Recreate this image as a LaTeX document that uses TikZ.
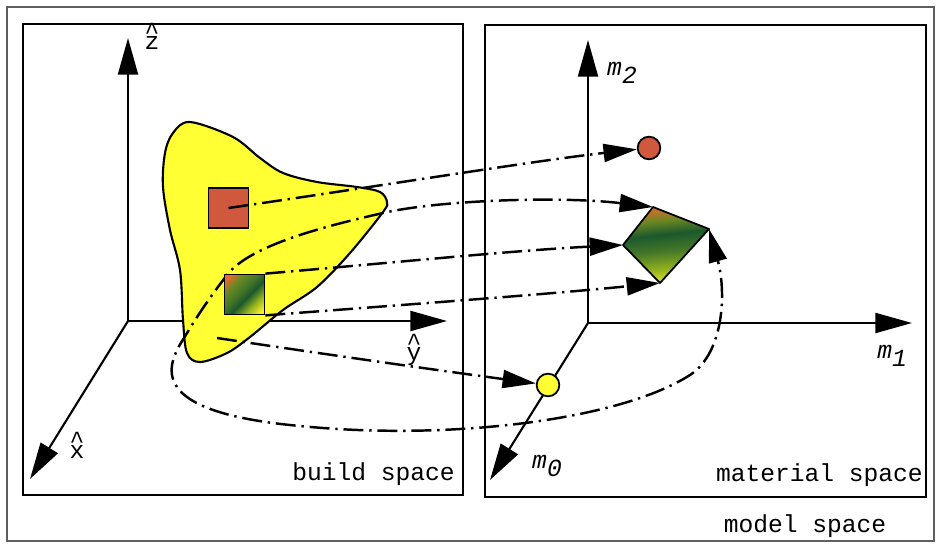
\documentclass[tikz,border=0pt]{standalone}
\usepackage{fontspec}
\setmonofont{Liberation Mono}
\usetikzlibrary{arrows.meta, shapes.geometric}
\definecolor{blobyellow}{RGB}{255,255,51}
\definecolor{cellred}{RGB}{208,88,60}
\definecolor{matorange}{RGB}{232,105,45}
\definecolor{matolive}{RGB}{105,135,35}
\definecolor{matdark}{RGB}{28,88,45}
\definecolor{matgreen}{RGB}{70,120,40}
\definecolor{matlime}{RGB}{150,180,30}
\definecolor{matyellow}{RGB}{248,240,40}
\definecolor{framegray}{RGB}{95,95,95}
\pgfdeclareverticalshading{cellshade}{100bp}{color(0bp)=(matyellow); color(20bp)=(matyellow);
  color(32bp)=(matlime); color(45bp)=(matdark); color(56bp)=(matgreen);
  color(68bp)=(matolive); color(80bp)=(matorange); color(100bp)=(matorange)}
\pgfdeclareverticalshading{diamondshade}{100bp}{color(0bp)=(matyellow); color(24bp)=(matyellow);
  color(34bp)=(matlime); color(46bp)=(matgreen); color(57bp)=(matdark);
  color(66bp)=(matolive); color(76bp)=(matorange); color(100bp)=(matorange)}
\newcommand{\hatlabel}[1]{\ooalign{#1\cr\hidewidth\raisebox{0.42em}{\textasciicircum}\hidewidth\cr}}
\newcommand{\msub}[1]{\textit{m}\raisebox{-0.35em}{\textit{#1}}}
\tikzset{
  flowtip/.tip={Triangle[length=1.0cm, width=0.54cm]},
  outerframe/.style={draw=framegray, line width=1.6pt},
  spacebox/.style={draw, line width=2.1pt},
  axisarrow/.style={line width=1.8pt, -{Triangle[length=1.1cm, width=0.6cm]}},
  flowline/.style={line width=2.1pt, dash pattern=on 17pt off 5pt on 2pt off 5pt, -flowtip},
  blobshape/.style={draw, line width=1.8pt, fill=blobyellow},
  cellbox/.style={draw, line width=1.5pt, minimum size=1.2cm, inner sep=0pt},
  pointdot/.style={circle, draw, line width=1.5pt, minimum size=0.68cm, inner sep=0pt},
  spacelabel/.style={font=\fontsize{21}{25}\selectfont\ttfamily, inner sep=0pt},
}
\begin{document}
\begin{tikzpicture}[x=0.03cm, y=-0.03cm]
  \useasboundingbox (0,0) rectangle (937,544);

  % frames
  \draw[outerframe] (7,7) rectangle (934,541);
  \draw[spacebox] (23,24) rectangle (463,495);
  \draw[spacebox] (485,25) rectangle (926,497);

  % build space axes
  \coordinate (bo) at (128,321);
  \coordinate (bz) at (128,38);
  \coordinate (by) at (447,321);
  \coordinate (bx) at (30,479);
  \draw[axisarrow] (bo) -- (bz);
  \draw[axisarrow] (bo) -- (by);
  \draw[axisarrow] (bo) -- (bx);
  \node[spacelabel] (zlab) at (152,43) {\hatlabel{z}};
  \node[spacelabel] (ylab) at (414,354) {\hatlabel{y}};
  \node[spacelabel] (xlab) at (77,452) {\hatlabel{x}};

  % material space axes
  \coordinate (mo) at (588,323);
  \coordinate (mz) at (588,40);
  \coordinate (my) at (912,323);
  \coordinate (mx) at (490,480);
  \draw[axisarrow] (mo) -- (mz);
  \draw[axisarrow] (mo) -- (my);
  \draw[axisarrow] (mo) -- (mx);
  \node[spacelabel] (m2lab) at (622,73) {\msub{2}};
  \node[spacelabel] (m1lab) at (892,356) {\msub{1}};
  \node[spacelabel] (m0lab) at (547,466) {\msub{0}};

  % part in build space
  \draw[blobshape] plot[smooth cycle, tension=0.55] coordinates {
    (190,122) (173,133) (165,153) (163,187) (170,230) (180,270) (183,320)
    (187,353) (200,362) (227,353) (250,337) (283,310) (317,287) (350,253)
    (383,212) (387,202) (380,192) (357,187) (317,182) (283,173) (260,158)
    (233,137)};
  \coordinate (bstart) at (217,338);

  % material points
  \node[pointdot, fill=cellred] (rdot) at (649,148) {};
  \node[pointdot, fill=blobyellow] (ydot) at (548,385) {};
  \coordinate (dtop) at (653,207);
  \coordinate (dright) at (709,229);
  \coordinate (dbot) at (660,283);
  \coordinate (dleft) at (623,245);
  \shadedraw[shading=diamondshade, shading angle=6, line width=1.5pt, line join=round]
    (dtop) -- (dright) -- (dbot) -- (dleft) -- cycle;

  % loop mapping
  \draw[flowline, flowtip-flowtip] (dtop) .. controls (560,196) and (440,200) .. (383,213)
    .. controls (326,226) and (250,245) .. (227,275)
    .. controls (204,305) and (195,320) .. (184,338)
    .. controls (166,366) and (145,412) .. (300,426)
    .. controls (450,441) and (620,420) .. (690,375)
    .. controls (725,352) and (726,290) .. (dright);

  % voxels
  \node[cellbox, shade, shading=cellshade, shading angle=45] (gsq) at (244.5,294.5) {};
  \node[cellbox, fill=cellred] (rsq) at (228.5,208) {};

  % mappings
  \draw[flowline] (rsq.center) .. controls (380,186) and (540,160) .. (rdot);
  \draw[flowline] (gsq.north east) .. controls (400,262) and (520,250) .. (dleft);
  \draw[flowline] (gsq.south east) .. controls (400,305) and (540,295) .. (dbot);
  \draw[flowline] (bstart) .. controls (330,355) and (450,372) .. (ydot);

  % space names
  \node[spacelabel, anchor=east] (bname) at (455,474) {build space};
  \node[spacelabel, anchor=east] (mname) at (923,475) {material space};
  \node[spacelabel] (allname) at (805,526) {model space};
\end{tikzpicture}
\end{document}
